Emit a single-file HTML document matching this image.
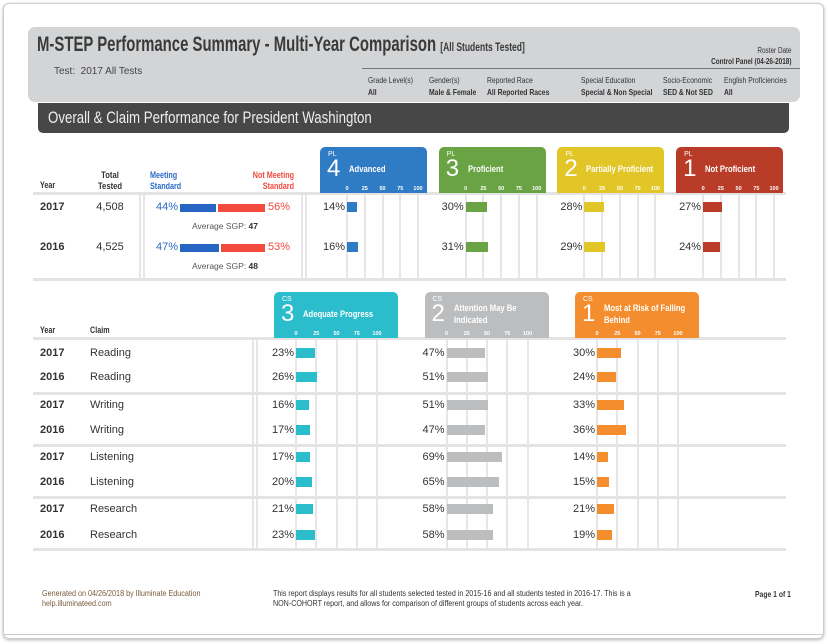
<!DOCTYPE html>
<html><head><meta charset="utf-8">
<style>
*{margin:0;padding:0;box-sizing:border-box}
body{width:828px;height:644px;background:#fff;position:relative;overflow:hidden;font-family:"Liberation Sans",sans-serif;color:#333}
.a{position:absolute;white-space:nowrap}
.n{transform:scaleX(0.8);transform-origin:left top}
.nr{transform:scaleX(0.8);transform-origin:right top}
.frame{position:absolute;left:3px;top:3px;width:821px;height:636px;border:1px solid #ccc;border-radius:6px;box-shadow:0 1px 3px rgba(0,0,0,.3)}
.hdr{position:absolute;left:28px;top:27px;width:772px;height:75px;background:#d3d4d6;border-radius:7px}
.tbar{position:absolute;left:38px;top:103px;width:751px;height:30px;background:#474747;border-radius:0 0 5px 5px}
.hl{position:absolute;height:3px;background:#e3e3e3}
.vl{position:absolute;width:2px;background:#e6e6e6}
.box{position:absolute;border-radius:5px 5px 0 0;color:#fff}
.box .pl{position:absolute;left:8px;top:4px;font-size:7px}
.box .num{position:absolute;left:7px;top:10px;font-size:24px;font-weight:300;line-height:24px}
.box .lab{position:absolute;left:29px;font-size:9px;font-weight:bold;line-height:12px;transform:scaleX(0.85);transform-origin:left top}
.tick{position:absolute;font-size:5.5px;font-weight:bold;transform:translateX(-50%);top:39px}
.val{position:absolute;font-size:11px;text-align:right;width:40px}
.bar{position:absolute;height:10px}
.cell{font-size:11px}
.lbl{font-size:9px;font-weight:bold}
</style></head><body>
<div class="frame"></div>
<div class="hdr"></div>
<div class="a n" style="left:37px;top:33px;font-size:21px;font-weight:bold;color:#3a3a3a;transform:scaleX(0.71)">M-STEP Performance Summary - Multi-Year Comparison <span style="font-size:12px;font-weight:bold">[All Students Tested]</span></div>
<div class="a" style="left:54px;top:66px;font-size:10px;color:#444">Test:&nbsp; 2017 All Tests</div>
<div class="a nr" style="right:37px;top:45px;font-size:8px;text-align:right;line-height:11px">Roster Date<br><b>Control Panel (04-26-2018)</b></div>
<div class="a" style="left:362px;top:68px;width:438px;height:1px;background:#777"></div>
<div class="a n" style="left:368px;top:74px;font-size:8.5px;line-height:12px">Grade Level(s)<br><b>All</b></div>
<div class="a n" style="left:429px;top:74px;font-size:8.5px;line-height:12px">Gender(s)<br><b>Male &amp; Female</b></div>
<div class="a n" style="left:487px;top:74px;font-size:8.5px;line-height:12px">Reported Race<br><b>All Reported Races</b></div>
<div class="a n" style="left:581px;top:74px;font-size:8.5px;line-height:12px">Special Education<br><b>Special &amp; Non Special</b></div>
<div class="a n" style="left:663px;top:74px;font-size:8.5px;line-height:12px">Socio-Economic<br><b>SED &amp; Not SED</b></div>
<div class="a n" style="left:724px;top:74px;font-size:8.5px;line-height:12px">English Proficiencies<br><b>All</b></div>
<div class="tbar"></div>
<div class="a n" style="left:48px;top:108px;font-size:17px;color:#eee;transform:scaleX(0.78)">Overall &amp; Claim Performance for President Washington</div>

<div class="a n lbl" style="left:40px;top:180px">Year</div>
<div class="a lbl" style="left:90px;top:170px;width:40px;text-align:center;line-height:11px;transform:scaleX(0.85)">Total<br>Tested</div>
<div class="a n lbl" style="left:150px;top:170px;color:#2a6ac7;line-height:11px">Meeting<br>Standard</div>
<div class="a nr lbl" style="left:234px;top:170px;width:60px;text-align:right;color:#f04a3e;line-height:11px">Not Meeting<br>Standard</div>
<div class="hl" style="left:33px;top:192px;width:753px"></div>
<div class="hl" style="left:33px;top:278px;width:753px"></div>
<div class="vl" style="left:139px;top:195px;height:83px"></div>
<div class="vl" style="left:143px;top:195px;height:83px"></div>
<div class="vl" style="left:301px;top:195px;height:83px"></div>
<div class="vl" style="left:305px;top:195px;height:83px"></div>

<div class="hl" style="left:33px;top:337px;width:753px"></div>
<div class="a n lbl" style="left:40px;top:325px">Year</div>
<div class="a n lbl" style="left:90px;top:325px">Claim</div>
<div class="vl" style="left:252px;top:340px;height:209px"></div>
<div class="vl" style="left:256px;top:340px;height:209px"></div>

<div class="a" style="left:42px;top:589px;font-size:8px;line-height:10px;color:#7a5a3a;transform:scaleX(0.9);transform-origin:left top">Generated on 04/26/2018 by Illuminate Education<br>help.illuminateed.com</div>
<div class="a" style="left:273px;top:589px;font-size:8px;line-height:10px;color:#333;transform:scaleX(0.89);transform-origin:left top">This report displays results for all students selected tested in 2015-16 and all students tested in 2016-17. This is a<br>NON-COHORT report, and allows for comparison of different groups of students across each year.</div>
<div class="a n" style="left:755px;top:589px;font-size:8.5px;font-weight:bold">Page 1 of 1</div>
<div class="a" style="left:4px;top:634px;width:820px;height:1px;background:#ccc"></div>

<script>
const years = ["2017","2016"];
const totals = ["4,508","4,525"];
const meeting = [44,47];
const sgp = [47,48];
const plNames = ["Advanced","Proficient","Partially Proficient","Not Proficient"];
const plNums = [4,3,2,1];
const plValues = [[14,16],[30,31],[28,29],[27,24]];
const tickLabels = [0,25,50,75,100];
const claimYears = ["2017","2016","2017","2016","2017","2016","2017","2016"];
const claims = ["Reading","Reading","Writing","Writing","Listening","Listening","Research","Research"];
const csNames = ["Adequate Progress","Attention May Be Indicated","Most at Risk of Falling Behind"];
const csNums = [3,2,1];
const csValues = [[23,26,16,17,17,20,21,23],[47,51,51,47,69,65,58,58],[30,24,33,36,14,15,21,19]];

const plColors=["#2f7bc4","#69a343","#e2c526","#b93c28"];
const csColors=["#2bbdcb","#bcbdbf","#f48d2e"];
const B=document.body;
function el(cls,style,html){const d=document.createElement('div');d.className=cls;d.style.cssText=style;if(html!==undefined)d.innerHTML=html;B.appendChild(d);return d;}

function chart(prefix,x0,w,boxL,boxW,boxTop,lineTop,lineBot,color,num,name,vals,rowsY,idx){
  const b=el('box','left:'+boxL+'px;top:'+boxTop+'px;width:'+boxW+'px;height:46px;background:'+color);
  
  
  b.innerHTML='<div class="pl">'+prefix.toUpperCase()+'</div><div class="num">'+num+'</div>';
  const lab=document.createElement('div');lab.className='lab';lab.textContent=name;
  const two=name.length>22;
  lab.style.top=(two?'10px':'16px');lab.style.width=(two?(boxW-36)/0.85:200)+'px';lab.style.whiteSpace=two?'normal':'nowrap';
  b.appendChild(lab);
  const sx=v=>x0+v/100*w;
  tickLabels.forEach(t=>{
    const tk=document.createElement('div');tk.className='tick';tk.textContent=t;tk.style.left=(sx(t)-boxL)+'px';
    
    
    b.appendChild(tk);
    const g=el('vl','left:'+(sx(t)-1)+'px;top:'+lineTop+'px;height:'+(lineBot-lineTop)+'px');
    
    
  });
  vals.forEach((v,i)=>{
    const bar=el('bar','left:'+sx(0)+'px;top:'+(rowsY[i]-6)+'px;width:'+(sx(v)-sx(0))+'px;background:'+color);
    
    
    const t=el('a val','left:'+(sx(0)-42)+'px;top:'+(rowsY[i]-7)+'px',v+'%');
    
    
  });
}

const topY=[208,248];
years.forEach((y,i)=>{
  let d=el('a cell','left:40px;top:'+(topY[i]-7)+'px;font-weight:bold',y);
  
  
  d=el('a cell','left:80px;width:60px;text-align:center;top:'+(topY[i]-7)+'px',totals[i]);
  
  
  const m=meeting[i],bx=180,bw=85;
  d=el('a cell','left:150px;width:28px;text-align:right;top:'+(topY[i]-7)+'px;color:#2a6ac7',m+'%');
  
  
  d=el('bar','left:'+bx+'px;top:'+(topY[i]-4)+'px;height:8px;width:'+(m/100*bw-1)+'px;background:#2466c2');
  
  
  d=el('bar','left:'+(bx+m/100*bw+1)+'px;top:'+(topY[i]-4)+'px;height:8px;width:'+((100-m)/100*bw-1)+'px;background:#f24b3d');
  
  
  d=el('a cell','left:'+(bx+bw+3)+'px;top:'+(topY[i]-7)+'px;color:#f04a3e',(100-m)+'%');
  
  
  d=el('a','left:192px;top:'+(topY[i]+13)+'px;font-size:8.5px;color:#555','Average SGP: <b style="color:#333">'+sgp[i]+'</b>');
  
  
});
plNames.forEach((n,k)=>{
  const L=320+k*118.7;
  chart('pl',L+27,71,L,107,147,195,278,plColors[k],plNums[k],n,plValues[k],topY,k);
});

const cY=[354,378,406,431,458,483,510,536];
claims.forEach((c,i)=>{
  let d=el('a cell','left:40px;top:'+(cY[i]-7)+'px;font-weight:bold',claimYears[i]);
  
  
  d=el('a cell','left:90px;top:'+(cY[i]-7)+'px',c);
  
  
});
[392,444,496,548].forEach(y=>{const d=el('hl','left:33px;top:'+y+'px;width:753px');
  
  });
csNames.forEach((n,k)=>{
  const L=274+k*150.5;
  chart('cs',L+22,81,L,124,292,340,548,csColors[k],csNums[k],n,csValues[k],cY,k);
});
</script>
</body></html>
